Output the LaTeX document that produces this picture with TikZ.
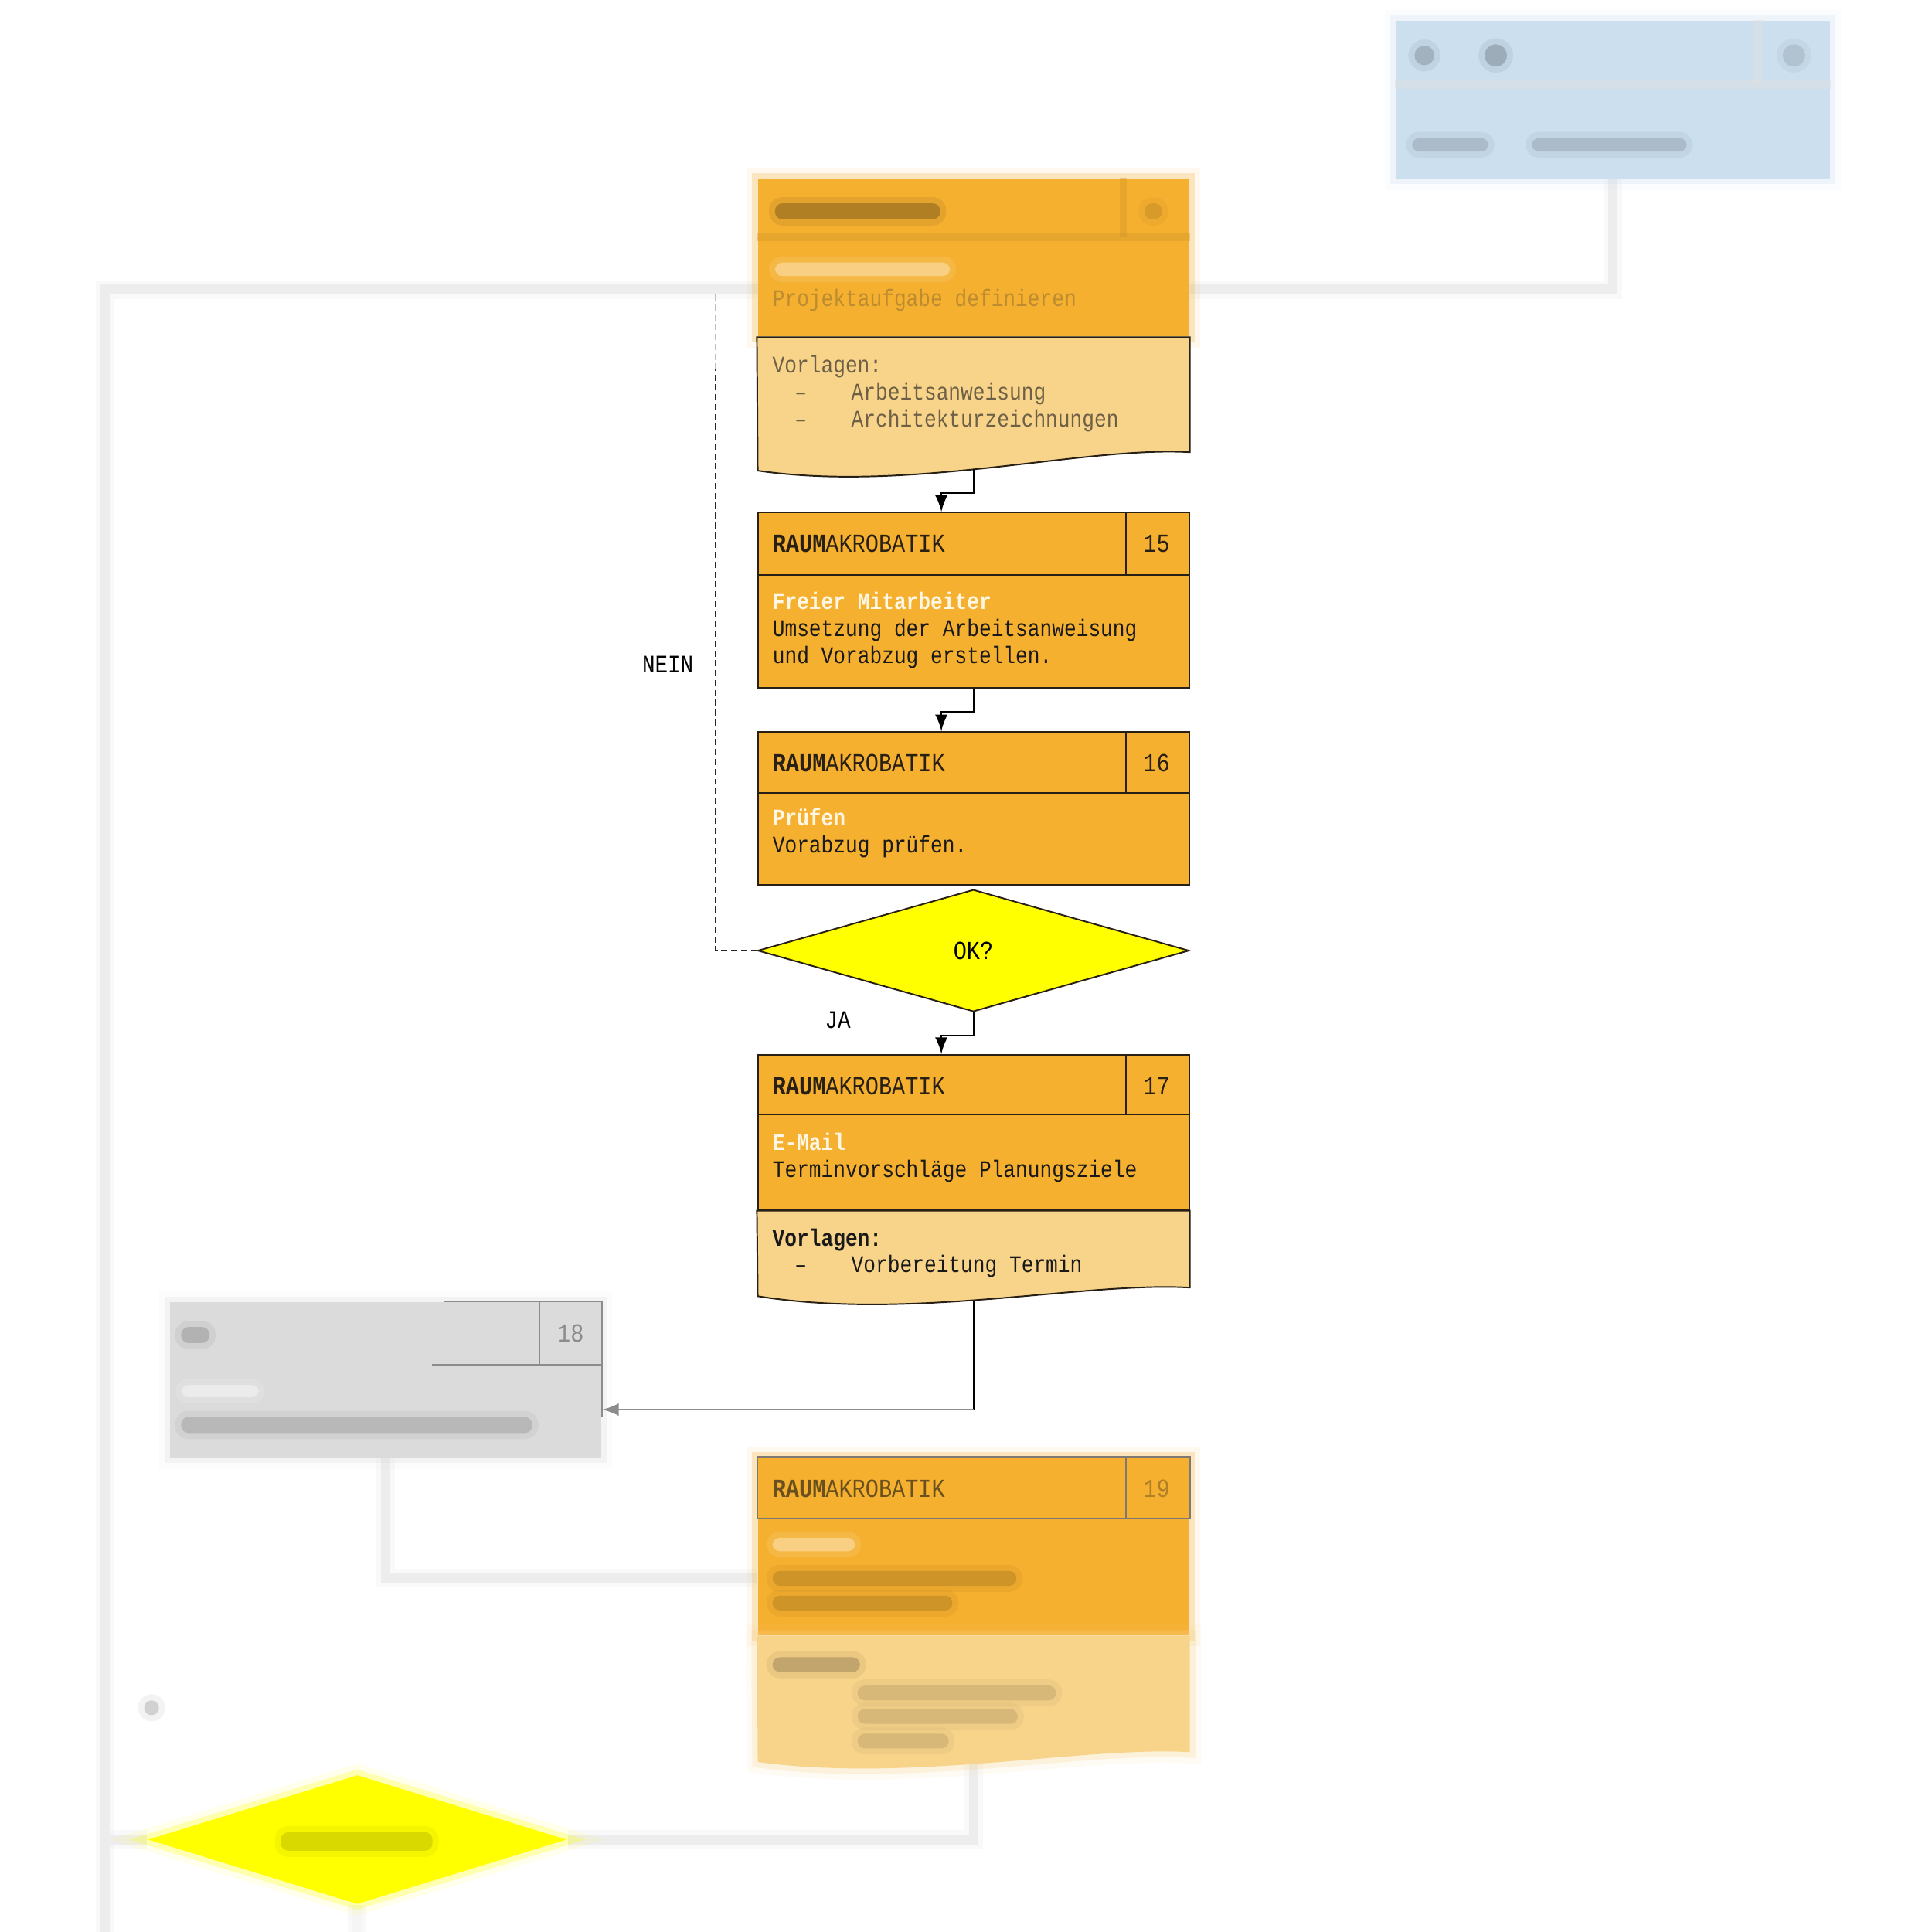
\documentclass[tikz,border=0pt]{standalone}
\usepackage{fontspec}
\newfontfamily\monofont{Liberation Mono}[FakeStretch=0.85]
\usetikzlibrary{shapes.geometric,positioning}
\pgfdeclarelayer{bg}
\pgfsetlayers{bg,main}

\definecolor{boxorange}{RGB}{245,176,48}
\definecolor{lightorange}{RGB}{248,212,138}
\definecolor{boxline}{RGB}{40,32,20}
\definecolor{rolewhite}{RGB}{255,246,228}
\definecolor{yellowok}{RGB}{255,255,0}
\definecolor{greybox}{RGB}{219,219,219}
\definecolor{greyline}{RGB}{140,140,140}
\definecolor{paleblue}{RGB}{203,223,239}
\definecolor{faintgrey}{RGB}{237,237,237}
\definecolor{fadebrown}{RGB}{110,96,70}
\definecolor{fadetext}{RGB}{190,140,48}
\definecolor{fadehead}{RGB}{105,80,30}

\begin{document}
\begin{tikzpicture}[x=0.1mm,y=-0.1mm,>=latex,
  box/.style={rectangle,draw=boxline,line width=0.35pt,fill=boxorange,minimum width=35mm,inner sep=0pt},
  rule/.style={draw=boxline,line width=0.35pt},
  head/.style={font=\monofont\fontsize{6}{7}\selectfont,inner sep=0pt,anchor=base west,text=boxline},
  body/.style={font=\monofont\fontsize{5.5}{6.6}\selectfont,inner sep=0pt,anchor=base west,text=black!90},
  role/.style={body,font=\monofont\bfseries\fontsize{5.5}{6.6}\selectfont,text=rolewhite},
  flow/.style={->,draw=black,line width=0.35pt},
  backflow/.style={draw=black!85,line width=0.35pt,dash pattern=on 0.5mm off 0.3mm},
  haze/.style={preaction={draw=#1,line width=1.8mm,opacity=0.08},preaction={draw=#1,line width=0.9mm,opacity=0.25}},
  faint/.style={draw=faintgrey,line width=0.8mm,preaction={draw=faintgrey,line width=1.5mm,opacity=0.3}},
  smudge/.style={fill=#1,rounded corners=0.6mm,preaction={draw=#1,line width=1mm,opacity=0.25,rounded corners=0.6mm}}]

  \useasboundingbox (0,0) rectangle (1568,1568);

  % blurred step above
  \node[box,draw=none,fill=paleblue,haze=paleblue,minimum width=35.2mm,minimum height=12.8mm] (ext) at (1309,81) {};
  \draw[draw=black!12,line width=0.8mm,opacity=0.5] ([yshift=-5.2mm]ext.north west) -- ([yshift=-5.2mm]ext.north east);
  \draw[draw=black!12,line width=0.8mm,opacity=0.5] ([xshift=-5.9mm]ext.north east) -- ([xshift=-5.9mm,yshift=-5.2mm]ext.north east);
  \fill[smudge=black!20!paleblue] (1156,45) circle (0.8mm);
  \fill[smudge=black!23!paleblue] (1214,45) circle (0.9mm);
  \fill[smudge=black!13!paleblue] (1456,45) circle (0.9mm);
  \fill[smudge=black!16!paleblue] (1146,112) rectangle (1208,123);
  \fill[smudge=black!16!paleblue] (1243,112) rectangle (1369,123);

  % step 14
  \node[box,draw=none,haze=boxorange,minimum height=12.8mm] (b14) at (790,209) {};
  \draw[draw=boxorange!85!black,line width=0.6mm,opacity=0.4] ([yshift=-4.8mm]b14.north west) -- ([yshift=-4.8mm]b14.north east);
  \draw[draw=boxorange!85!black,line width=0.6mm,opacity=0.4] ([xshift=-5.4mm]b14.north east) -- ([xshift=-5.4mm,yshift=-4.8mm]b14.north east);
  \fill[smudge=boxorange!72!black] (629,165) rectangle (763,178);
  \fill[smudge=boxorange!88!black] (929,165) rectangle (943,178);
  \fill[smudge=boxorange!60!white] (629,213) rectangle (771,224);
  \node[body,text=fadetext] (x14) at ([xshift=1.2mm,yshift=2.5mm]b14.south west) {Projektaufgabe definieren};
  \node[rectangle,inner sep=0pt,minimum width=35mm,minimum height=9.2mm,anchor=north] (d14) at (b14.south) {};
  \filldraw[rule,fill=lightorange] (d14.north west) -- (d14.north east) -- (d14.south east)
    .. controls (880,362) and (740,400) .. (615,382) coordinate[pos=0.54] (d14b) -- cycle;
  \node[body,text=fadebrown] (v14) at ([xshift=1.2mm,yshift=-2.9mm]d14.north west) {Vorlagen:};
  \node[body,text=fadebrown] (v14a) at ([xshift=1.8mm,yshift=-2.2mm]v14.base west) {–};
  \node[body,text=fadebrown] (v14b) at ([xshift=6.4mm,yshift=-2.2mm]v14.base west) {Arbeitsanweisung};
  \node[body,text=fadebrown] (v14c) at ([xshift=1.8mm,yshift=-4.4mm]v14.base west) {–};
  \node[body,text=fadebrown] (v14d) at ([xshift=6.4mm,yshift=-4.4mm]v14.base west) {Architekturzeichnungen};

  % step 15
  \node[box,minimum height=14.2mm] (b15) at (790,487) {};
  \draw[rule] ([yshift=-5.1mm]b15.north west) -- ([yshift=-5.1mm]b15.north east);
  \draw[rule] ([xshift=-5.2mm]b15.north east) -- ([xshift=-5.2mm,yshift=-5.1mm]b15.north east);
  \node[head] (h15) at ([xshift=1.2mm,yshift=-3.3mm]b15.north west) {\textbf{RAUM}AKROBATIK};
  \node[head,anchor=base] (n15) at ([xshift=-2.7mm,yshift=-3.3mm]b15.north east) {15};
  \node[role] (r15) at ([xshift=1.2mm,yshift=-7.9mm]b15.north west) {Freier Mitarbeiter};
  \node[body] (x15a) at ([yshift=-2.2mm]r15.base west) {Umsetzung der Arbeitsanweisung};
  \node[body] (x15b) at ([yshift=-2.2mm]x15a.base west) {und Vorabzug erstellen.};

  % step 16
  \node[box,minimum height=12.4mm] (b16) at (790,656) {};
  \draw[rule] ([yshift=-5.0mm]b16.north west) -- ([yshift=-5.0mm]b16.north east);
  \draw[rule] ([xshift=-5.2mm]b16.north east) -- ([xshift=-5.2mm,yshift=-5.0mm]b16.north east);
  \node[head] (h16) at ([xshift=1.2mm,yshift=-3.3mm]b16.north west) {\textbf{RAUM}AKROBATIK};
  \node[head,anchor=base] (n16) at ([xshift=-2.7mm,yshift=-3.3mm]b16.north east) {16};
  \node[role] (r16) at ([xshift=1.2mm,yshift=-7.7mm]b16.north west) {Prüfen};
  \node[body] (x16) at ([yshift=-2.2mm]r16.base west) {Vorabzug prüfen.};

  % decision
  \node[diamond,draw=boxline,line width=0.35pt,fill=yellowok,minimum width=35mm,minimum height=9.9mm,
    inner sep=0pt,aspect=3.5,font=\monofont\fontsize{6}{7}\selectfont] (ok) at (790,771.5) {OK?};
  \node[font=\monofont\fontsize{5.8}{7}\selectfont,inner sep=0pt] (nein) at (542,539) {NEIN};
  \node[font=\monofont\fontsize{5.8}{7}\selectfont,inner sep=0pt] (ja) at (680,828) {JA};

  % step 17
  \node[box,minimum height=12.6mm] (b17) at (790,919) {};
  \draw[rule] ([yshift=-4.9mm]b17.north west) -- ([yshift=-4.9mm]b17.north east);
  \draw[rule] ([xshift=-5.2mm]b17.north east) -- ([xshift=-5.2mm,yshift=-4.9mm]b17.north east);
  \node[head] (h17) at ([xshift=1.2mm,yshift=-3.3mm]b17.north west) {\textbf{RAUM}AKROBATIK};
  \node[head,anchor=base] (n17) at ([xshift=-2.7mm,yshift=-3.3mm]b17.north east) {17};
  \node[role] (r17) at ([xshift=1.2mm,yshift=-7.8mm]b17.north west) {E-Mail};
  \node[body] (x17) at ([yshift=-2.2mm]r17.base west) {Terminvorschläge Planungsziele};
  \node[rectangle,inner sep=0pt,minimum width=35mm,minimum height=6.1mm,anchor=north] (d17) at (b17.south) {};
  \filldraw[rule,fill=lightorange] (d17.north west) -- (d17.north east) -- (d17.south east)
    .. controls (880,1040) and (740,1072) .. (615,1052) coordinate[pos=0.54] (d17b) -- cycle;
  \node[body,font=\monofont\bfseries\fontsize{5.5}{6.6}\selectfont] (v17) at ([xshift=1.2mm,yshift=-2.9mm]d17.north west) {Vorlagen:};
  \node[body] (v17a) at ([xshift=1.8mm,yshift=-2.1mm]v17.base west) {–};
  \node[body] (v17b) at ([xshift=6.4mm,yshift=-2.1mm]v17.base west) {Vorbereitung Termin};

  % step 18
  \node[box,draw=none,fill=greybox,haze=greybox,minimum height=12.6mm] (b18) at (313,1120) {};
  \draw[draw=greyline,line width=0.35pt] ([xshift=-12.8mm]b18.north east) -- (b18.north east) -- ([yshift=-9.3mm]b18.north east);
  \draw[draw=greyline,line width=0.35pt] ([xshift=-13.8mm,yshift=-5.1mm]b18.north east) -- ([yshift=-5.1mm]b18.north east);
  \draw[draw=greyline,line width=0.35pt] ([xshift=-5.1mm]b18.north east) -- ([xshift=-5.1mm,yshift=-5.1mm]b18.north east);
  \node[head,anchor=base,text=black!45] (n18) at ([xshift=-2.55mm,yshift=-3.3mm]b18.north east) {18};
  \fill[smudge=black!30] (147,1077) rectangle (170,1090);
  \fill[smudge=black!8] (147,1124) rectangle (210,1134);
  \fill[smudge=black!28] (147,1150) rectangle (432,1163);

  % step 19
  \node[box,draw=none,haze=boxorange,minimum height=14.4mm] (b19) at (790,1255) {};
  \draw[rule,draw=boxline!60] (b19.north west) rectangle ([yshift=-5mm]b19.north east);
  \draw[rule,draw=boxline!60] ([xshift=-5.2mm]b19.north east) -- ([xshift=-5.2mm,yshift=-5mm]b19.north east);
  \node[head,text=fadehead] (h19) at ([xshift=1.2mm,yshift=-3.3mm]b19.north west) {\textbf{RAUM}AKROBATIK};
  \node[head,anchor=base,text=fadehead!50!boxorange] (n19) at ([xshift=-2.7mm,yshift=-3.3mm]b19.north east) {19};
  \fill[smudge=boxorange!60!white] (627,1248) rectangle (694,1259);
  \fill[smudge=boxorange!84!black] (627,1275) rectangle (825,1287);
  \fill[smudge=boxorange!84!black] (627,1295) rectangle (773,1307);
  \node[rectangle,inner sep=0pt,minimum width=35mm,minimum height=9.3mm,anchor=north] (d19) at (b19.south) {};
  \fill[lightorange,haze=lightorange] (d19.north west) -- (d19.north east) -- (d19.south east)
    .. controls (880,1417) and (740,1447) .. (615,1430) coordinate[pos=0.54] (d19b) -- cycle;
  \fill[smudge=lightorange!78!black] (627,1345) rectangle (698,1357);
  \fill[smudge=lightorange!87!black] (696,1368) rectangle (857,1380);
  \fill[smudge=lightorange!87!black] (696,1387) rectangle (826,1399);
  \fill[smudge=lightorange!87!black] (696,1407) rectangle (770,1419);

  % decision below
  \node[diamond,fill=yellowok,haze=yellowok,minimum width=34mm,minimum height=10.5mm,inner sep=0pt,aspect=3.2] (dec2) at (290,1493) {};
  \fill[smudge=yellowok!85!black] (228,1487) rectangle (351,1502);
  \fill[smudge=black!18] (123,1386) circle (0.6mm);

  % connectors
  \coordinate (lt) at (85,235);
  \coordinate (lb) at (85,1568);
  \coordinate (jm) at (581,300);
  \coordinate (jn) at (581,236);
  \coordinate (e18) at ([yshift=-2.4mm]b18.east);

  \begin{pgfonlayer}{bg}
    \fill[white] (0,0) rectangle (1568,1568);
    \draw[faint] (ext.south) |- (lt) -- (lb);
    \draw[faint] (b18.south) |- ([yshift=-2.6mm]b19.west);
    \draw[faint] (d19b) |- (dec2.east);
    \draw[faint] (dec2.west) -- (dec2.west -| lt);
    \draw[faint,opacity=0.3] (dec2.south) -- (dec2.south |- lb);
  \end{pgfonlayer}

  \draw[flow] (d14b) -- ++(0,19) -| ([xshift=-2.6mm]b15.north);
  \draw[flow] (b15.south) -- ++(0,19) -| ([xshift=-2.6mm]b16.north);
  \draw[flow] (ok.south) -- ++(0,19) -| ([xshift=-2.6mm]b17.north);
  \draw[backflow] (ok.west) -| (jm);
  \draw[backflow,draw=black!25] (jm) -- (jn);
  \draw[line width=0.35pt] (d17b) -- (d17b |- e18) coordinate (k17);
  \draw[flow,draw=black!45] (k17) -- (e18);
\end{tikzpicture}
\end{document}
